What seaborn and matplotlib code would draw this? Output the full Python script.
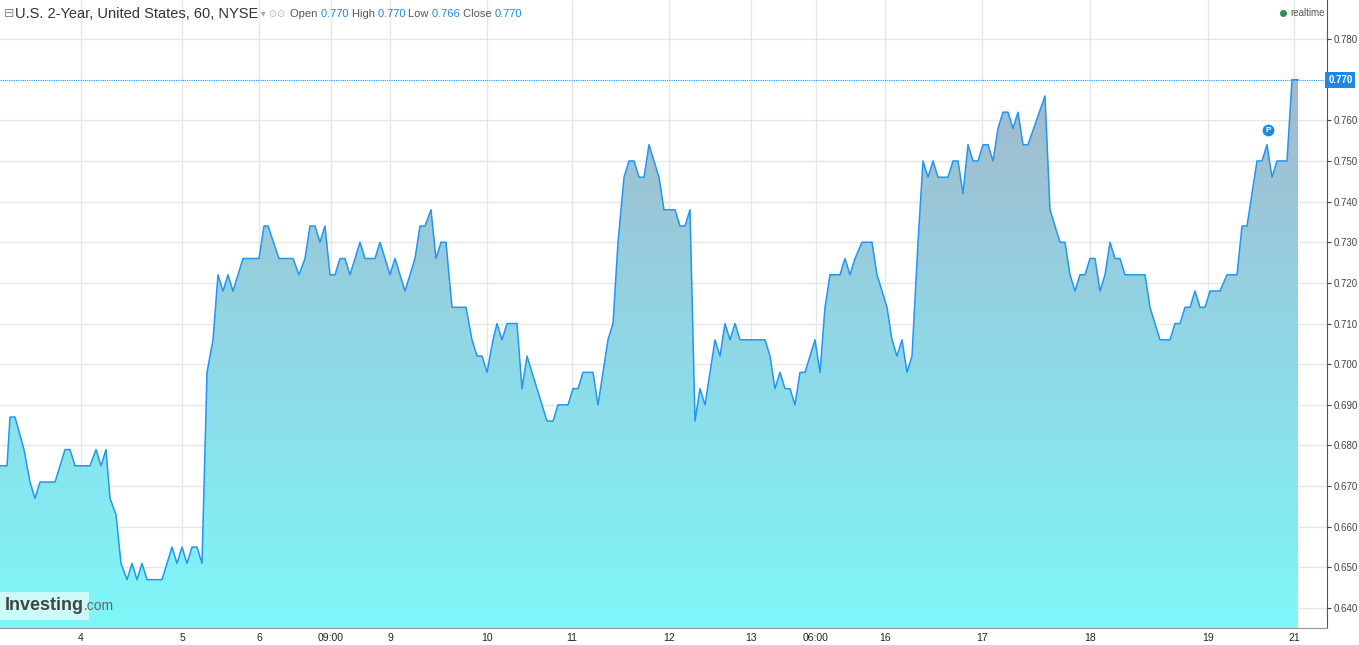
import numpy as np
import pandas as pd
import matplotlib
matplotlib.use("Agg")
import matplotlib.pyplot as plt
import seaborn as sns
from matplotlib.patches import Polygon
from matplotlib.colors import LinearSegmentedColormap

# time coordinate (chart units) and yield values
t = [0,7,10,15,24,30,35,40,55,65,70,75,90,96,101,106,110,116,121,127,132,137,142,147,162,172,177,182,187,192,197,202,
     207,213,218,223,228,233,243,259,264,268,279,293,299,305,310,315,320,325,330,335,340,345,350,360,365,375,380,390,395,405,
     415,420,425,431,436,441,446,452,466,472,477,482,487,493,497,502,507,517,522,527,547,553,558,568,573,578,583,593,598,608,
     613,618,624,629,634,639,644,649,659,664,675,680,685,690,695,700,705,710,715,720,725,730,735,740,765,770,775,780,785,790,
     795,800,805,815,820,825,830,840,845,850,855,862,872,877,887,892,897,902,907,912,918,923,928,933,938,948,953,958,963,968,
     973,978,983,988,993,998,1003,1008,1013,1018,1023,1028,1045,1050,1055,1060,1065,1070,1075,1080,1085,1090,1095,1100,1105,
     1110,1115,1120,1125,1145,1150,1155,1160,1170,1175,1180,1185,1190,1195,1200,1205,1210,1220,1227,1237,1242,1247,1252,1257,
     1262,1267,1272,1277,1287,1292,1298]
values = [0.675,0.675,0.687,0.687,0.679,0.671,0.667,0.671,0.671,0.679,0.679,0.675,0.675,0.679,0.675,0.679,0.667,0.663,0.651,
          0.647,0.651,0.647,0.651,0.647,0.647,0.655,0.651,0.655,0.651,0.655,0.655,0.651,
          0.698,0.706,0.722,0.718,0.722,0.718,0.726,0.726,0.734,0.734,0.726,0.726,0.722,0.726,0.734,0.734,0.730,0.734,0.722,
          0.722,0.726,0.726,0.722,0.730,0.726,0.726,0.730,0.722,0.726,0.718,
          0.726,0.734,0.734,0.738,0.726,0.730,0.730,0.714,0.714,0.706,0.702,0.702,0.698,0.706,0.710,0.706,0.710,0.710,0.694,
          0.702,0.686,0.686,0.690,0.690,0.694,0.694,0.698,0.698,0.690,0.706,
          0.710,0.730,0.746,0.750,0.750,0.746,0.746,0.754,0.746,0.738,0.738,0.734,0.734,0.738,0.686,0.694,0.690,0.698,0.706,
          0.702,0.710,0.706,0.710,0.706,0.706,0.702,0.694,0.698,0.694,0.694,
          0.690,0.698,0.698,0.706,0.698,0.714,0.722,0.722,0.726,0.722,0.726,0.730,0.730,0.722,0.714,0.706,0.702,0.706,0.698,
          0.702,0.730,0.750,0.746,0.750,0.746,0.746,0.750,0.750,0.742,0.754,
          0.750,0.750,0.754,0.754,0.750,0.758,0.762,0.762,0.758,0.762,0.754,0.754,0.766,0.738,0.734,0.730,0.730,0.722,0.718,
          0.722,0.722,0.726,0.726,0.718,0.722,
          0.730,0.726,0.726,0.722,0.722,0.714,0.710,0.706,0.706,0.710,0.710,0.714,0.714,0.718,0.714,0.714,0.718,0.718,0.722,
          0.722,0.734,0.734,0.742,0.750,
          0.750,0.754,0.746,0.750,0.750,0.770,0.770]
tick_pos = [81,182,259,331,390,487,572,669,751,816,885,982,1090,1208,1294]
tick_labels = ["4","5","6","09:00","9","10","11","12","13","06:00","16","17","18","19","21"]
y_ticks = [0.640,0.650,0.660,0.670,0.680,0.690,0.700,0.710,0.720,0.730,0.740,0.750,0.760,0.780]
last = 0.770

df = pd.DataFrame({"t": t, "v": values})
sns.set_style("white")
plt.rcParams['font.family'] = ['Liberation Sans', 'DejaVu Sans']

W, H = 1359, 645
fig = plt.figure(figsize=(W/100, H/100), dpi=100)
ax = fig.add_axes([0, 17/H, 1327/W, 628/H])
y0, y1 = 0.6351, 0.7896
ax.set_xlim(0, 1327)
ax.set_ylim(y0, y1)

grad = np.linspace(0, 1, 256).reshape(-1, 1)
cmap = LinearSegmentedColormap.from_list("g", ["#7ef7f9", "#8fd8e6", "#a3b9cc"])
top = max(values)
im = ax.imshow(grad, aspect="auto", cmap=cmap, origin="lower",
               extent=[0, t[-1], y0, top], zorder=1)
poly = Polygon(list(zip(t, values)) + [(t[-1], y0), (t[0], y0)], closed=True,
               facecolor="none", edgecolor="none")
ax.add_patch(poly)
im.set_clip_path(poly)

sns.lineplot(data=df, x="t", y="v", ax=ax, color="#2196f3", lw=1.1, zorder=3)

ax.set_xticks(tick_pos)
ax.set_xticklabels(tick_labels)
ax.set_yticks(y_ticks)
ax.grid(True, color="#e6e6e6", lw=1, zorder=0)
ax.set_axisbelow(True)
ax.yaxis.tick_right()
ax.set_yticklabels([f"{v:.3f}" for v in y_ticks])
ax.tick_params(axis="y", labelsize=7, colors="#444444", length=3, pad=2)
ax.tick_params(axis="x", labelsize=7.5, colors="#222222", length=2, pad=1.5)
ax.set_xlabel(""); ax.set_ylabel("")
for s in ["top", "left"]:
    ax.spines[s].set_visible(False)
ax.spines["right"].set_color("#555555")
ax.spines["bottom"].set_color("#999999")

ax.axhline(last, color="#2196f3", lw=0.8, ls=(0, (1, 1)), zorder=2)
ax.text(1.001, last, f"{last:.3f}", transform=ax.get_yaxis_transform(), ha="left", va="center",
        fontsize=7, color="white", fontweight="bold",
        bbox=dict(boxstyle="square,pad=0.3", fc="#1e88e5", ec="none"), clip_on=False)

ax.scatter([1268], [0.7575], s=90, color="#1e88e5", zorder=5, edgecolor="white")
ax.text(1268, 0.7575, "P", ha="center", va="center", color="white", fontsize=6, fontweight="bold", zorder=6)

fig.text(0.003, 1 - 14/H, "⊟", fontsize=9, color="#888888", va="center")
parts = [("U.S. 2-Year, United States, 60, NYSE", "#333333", 10.5),
         (" ▾ ", "#aaaaaa", 7), ("⊙⊙  ", "#bbbbbb", 7),
         ("Open ", "#555555", 8), ("0.770 ", "#1e88e5", 8),
         ("High ", "#555555", 8), ("0.770 ", "#1e88e5", 8),
         ("Low ", "#555555", 8), ("0.766 ", "#1e88e5", 8),
         ("Close ", "#555555", 8), ("0.770", "#1e88e5", 8)]
x = 15
fig.canvas.draw()
r = fig.canvas.get_renderer()
for s, c, fs in parts:
    tx = fig.text(x / W, 1 - 14/H, s, fontsize=fs, color=c, va="center")
    x += tx.get_window_extent(r).width
fig.text(1290/W, 1 - 13/H, "realtime", fontsize=7, color="#555555", va="center")
fig.add_artist(matplotlib.lines.Line2D([1283/W], [1 - 13/H], marker="o", ms=4, color="#2e8b57",
                                       transform=fig.transFigure))
ax.text(5, 0.6385, "Investing", fontsize=13, fontweight="bold", color="#444444", va="bottom", zorder=6,
        bbox=dict(boxstyle="square,pad=0.3", fc="white", ec="none", alpha=0.6))
ax.text(84, 0.6387, ".com", fontsize=10, color="#666666", va="bottom", zorder=7)

fig.savefig("out.png", dpi=100)
